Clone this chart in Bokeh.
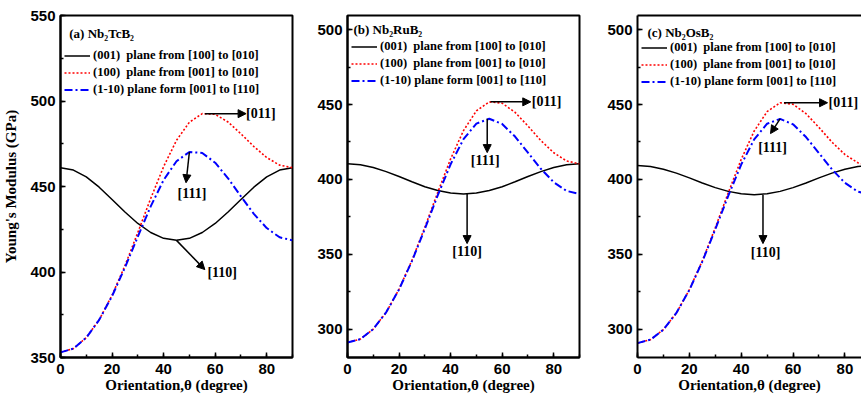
from bokeh.plotting import figure
from bokeh.layouts import row
from bokeh.models import (Range1d, Legend, LegendItem, Arrow, NormalHead, Label,
                          LinearAxis, SingleIntervalTicker, FixedTicker)
from bokeh.embed import file_html
from bokeh.resources import INLINE

# ---------------- data ----------------
theta = [0, 5, 10, 15, 20, 25, 30, 35, 40, 45, 50, 55, 60, 65, 70, 75, 80, 85, 90]

# (a) Nb2TcB2
a_001 = [461.0, 459.6, 455.6, 449.6, 442.4, 435.1, 428.4, 423.1, 419.7, 418.5,
         419.7, 423.1, 428.4, 435.1, 442.4, 449.6, 455.6, 459.6, 461.0]
a_100 = [353.0, 355.2, 361.6, 372.1, 386.4, 403.7, 423.1, 443.0, 461.6, 477.0,
         487.6, 492.6, 492.2, 487.7, 480.8, 473.4, 466.9, 462.5, 461.0]
a_1m10 = [353.0, 355.2, 361.6, 372.0, 385.9, 402.6, 420.7, 438.4, 453.8, 464.8,
          470.2, 469.6, 463.9, 454.8, 444.2, 434.0, 425.7, 420.3, 418.5]

# (b) Nb2RuB2
b_001 = [410.4, 409.8, 408.0, 405.2, 401.9, 398.4, 395.1, 392.6, 390.9, 390.3,
         390.9, 392.6, 395.1, 398.4, 401.9, 405.2, 408.0, 409.8, 410.4]
b_100 = [291.0, 293.3, 300.0, 311.2, 326.7, 345.9, 368.0, 391.3, 413.7, 432.6,
         445.8, 451.8, 450.9, 444.8, 435.7, 426.0, 417.8, 412.3, 410.4]
b_1m10 = [291.0, 293.3, 300.0, 311.2, 326.5, 345.4, 366.9, 389.3, 410.1, 426.9,
          437.3, 440.5, 437.0, 428.6, 417.9, 407.1, 398.1, 392.3, 390.3]

# (c) Nb2OsB2
c_001 = [409.2, 408.6, 406.8, 404.2, 401.0, 397.6, 394.5, 392.0, 390.4, 389.8,
         390.4, 392.0, 394.5, 397.6, 401.0, 404.2, 406.8, 408.6, 409.2]
c_100 = [290.6, 292.9, 299.6, 310.8, 326.3, 345.6, 367.7, 391.0, 413.4, 432.3,
         445.3, 451.2, 450.2, 443.9, 434.7, 424.9, 416.6, 411.1, 409.2]
c_1m10 = [290.6, 292.9, 299.6, 310.8, 326.1, 345.1, 366.6, 389.0, 409.9, 426.7,
          437.2, 440.4, 436.8, 428.3, 417.5, 406.7, 397.7, 391.8, 389.8]

series_labels = ["(001)  plane from [100] to [010]",
                 "(100)  plane from [001] to [010]",
                 "(1-10) plane form [001] to [110]"]
panel_titles = ["(a) Nb\u2082TcB\u2082", "(b) Nb\u2082RuB\u2082", "(c) Nb\u2082OsB\u2082"]
x_label = "Orientation,\u03b8 (degree)"
y_label = "Young's Modulus (GPa)"

SERIF = "Liberation Serif"
SANS = "Liberation Sans"

panels = [
    dict(title=panel_titles[0], e001=a_001, e100=a_100, e110=a_1m10,
         yr=(350, 550), xmax=90, width=300, left=58, right=8, ylabel=y_label,
         outline=True, legend_top=31.5, title_xy=(3.4, 539.3),
         a011=(1.0, 16.0, 0.0), a111=(0.0, -1.3, -18.0, 1.0, -24.4),
         a110=(0.0, 11.0, -17.1, 12.0, -18.9, "left")),
    dict(title=panel_titles[1], e001=b_001, e100=b_100, e110=b_1m10,
         yr=(281, 509.5), xmax=90, width=290, left=47, right=11, ylabel=None,
         outline=True, legend_top=22.5, title_xy=(2.3, 500.2),
         a011=(0.5, 15.6, 0.4), a111=(-0.8, 0.0, -22.6, -0.8, -27.9),
         a110=(1.4, 0.0, -33.2, 0.0, -38.6, "center")),
    dict(title=panel_titles[2], e001=c_001, e100=c_100, e110=c_1m10,
         yr=(281, 509.5), xmax=86.4, width=271, left=47, right=0, ylabel=None,
         outline=False, legend_top=23.5, title_xy=(3.85, 498.2),
         a011=(1.5, 16.8, 0.4), a111=(0.0, -3.7, -9.8, -2.9, -19.1),
         a110=(3.4, 0.0, -32.7, 1.0, -38.4, "center")),
]

FRAME_H = 342
LEG_H = 51


def arrow(p, x0, y0, x1, y1):
    p.add_layout(Arrow(end=NormalHead(size=8, fill_color="black", line_color="black", line_width=1),
                       x_start=x0, y_start=y0, x_end=x1, y_end=y1,
                       line_color="black", line_width=1.5))


def text(p, x, y, s, align, size="14px"):
    p.add_layout(Label(x=x, y=y, text=s, text_font=SERIF, text_font_style="bold",
                       text_font_size=size, text_align=align, text_baseline="middle",
                       text_color="black"))


def build(spec):
    p = figure(width=spec["width"], height=396,
               x_range=Range1d(0, spec["xmax"]), y_range=Range1d(*spec["yr"]),
               output_backend="svg", toolbar_location=None,
               min_border_left=spec["left"], min_border_right=spec["right"],
               min_border_top=15, min_border_bottom=39)
    p.xgrid.visible = False
    p.ygrid.visible = False
    p.background_fill_color = "white"
    p.border_fill_color = "white"

    xax = p.below[0]
    yax = p.left[0]
    xax.ticker = SingleIntervalTicker(interval=20, num_minor_ticks=2)
    yax.ticker = SingleIntervalTicker(interval=50, num_minor_ticks=2)
    for ax in (xax, yax):
        ax.axis_line_width = 2
        ax.major_tick_in = 5
        ax.major_tick_out = 0
        ax.minor_tick_in = 3
        ax.minor_tick_out = 0
        ax.major_tick_line_width = 1.5
        ax.minor_tick_line_width = 1.5
        ax.major_label_text_font = SANS
        ax.major_label_text_font_style = "bold"
        ax.major_label_text_font_size = "15px"
        ax.major_label_text_color = "black"
        ax.axis_label_text_font = SERIF
        ax.axis_label_text_font_style = "bold"
        ax.axis_label_text_font_size = "15px"
        ax.axis_label_text_color = "black"
    xax.major_label_standoff = 6
    xax.axis_label_standoff = 0
    yax.major_label_standoff = 5
    yax.axis_label_standoff = 8
    xax.axis_label = x_label
    if spec["ylabel"]:
        yax.axis_label = spec["ylabel"]

    if spec["outline"]:
        p.outline_line_color = "black"
        p.outline_line_width = 2
    else:
        p.outline_line_color = None
        top = LinearAxis(ticker=FixedTicker(ticks=[]), axis_line_width=2, axis_label=None,
                         major_tick_line_color=None, minor_tick_line_color=None,
                         major_label_text_font_size="0px")
        p.add_layout(top, "above")

    r1 = p.line(theta, spec["e001"], line_color="black", line_width=1.5)
    r2 = p.line(theta, spec["e100"], line_color="red", line_width=1.6, line_dash="2 2")
    r3 = p.line(theta, spec["e110"], line_color="blue", line_width=2, line_dash="8 3 2 3")

    leg = Legend(items=[LegendItem(label=series_labels[0], renderers=[r1]),
                        LegendItem(label=series_labels[1], renderers=[r2]),
                        LegendItem(label=series_labels[2], renderers=[r3])],
                 location=(4, FRAME_H - spec["legend_top"] - LEG_H),
                 padding=0, spacing=0, margin=0, label_height=17, glyph_height=17,
                 glyph_width=26, label_standoff=3,
                 border_line_color=None, background_fill_alpha=0,
                 label_text_font=SERIF, label_text_font_style="bold",
                 label_text_font_size="12.5px", label_text_color="black")
    p.add_layout(leg)

    tx, ty = spec["title_xy"]
    text(p, tx, ty, spec["title"], "left", size="13px")

    # [011] : peak of the (100) curve
    e100 = spec["e100"]
    i = max(range(len(e100)), key=lambda k: e100[k])
    sdx, edx, tdx = spec["a011"]
    x0, y0 = theta[i] + sdx, e100[i]
    arrow(p, x0, y0, x0 + edx, y0)
    text(p, x0 + edx + tdx, y0, "[011]", "left")

    # [111] : peak of the (1-10) curve
    e110 = spec["e110"]
    j = max(range(len(e110)), key=lambda k: e110[k])
    sdx, edx, edy, tdx, tdy = spec["a111"]
    x0, y0 = theta[j] + sdx, e110[j]
    arrow(p, x0, y0, x0 + edx, y0 + edy)
    text(p, x0 + tdx, y0 + tdy, "[111]", "center")

    # [110] : minimum of the (001) curve
    e001 = spec["e001"]
    m = min(range(len(e001)), key=lambda k: e001[k])
    sdx, edx, edy, tdx, tdy, al = spec["a110"]
    x0, y0 = theta[m] + sdx, e001[m]
    arrow(p, x0, y0, x0 + edx, y0 + edy)
    text(p, x0 + tdx, y0 + tdy, "[110]", al)
    return p


figs = [build(s) for s in panels]
layout = row(*figs, spacing=0)
open("out.html", "w").write(file_html(layout, INLINE))
